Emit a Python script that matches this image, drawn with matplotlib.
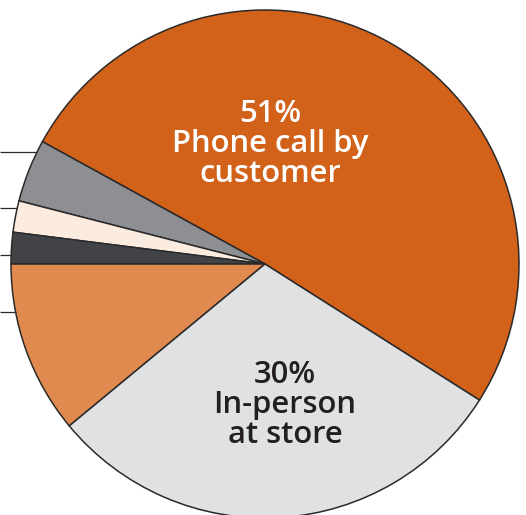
import matplotlib.pyplot as plt
import numpy as np

# appointment booking channel shares (%), counterclockwise from the phone slice
channels = ['Phone call by customer', 'Online booking', 'Text message',
            'Email', 'Phone call by store', 'In-person at store']
shares = [51, 4, 2, 2, 11, 30]
colors = ['#D2611A', '#8E8F93', '#FCEBDF', '#424346', '#E08A50', '#E0E1E3']

W, H = 526, 515
cx, cy, R = 265, H - 264, 254

fig = plt.figure(figsize=(W / 100, H / 100), dpi=100)
ax = fig.add_axes([0, 0, 1, 1])

ax.pie(shares, colors=colors, startangle=327.6, counterclock=True,
       radius=R, center=(cx, cy), frame=True,
       wedgeprops=dict(edgecolor='#2a2a2a', linewidth=1.1))

# leader lines running off to the left for the small slices
for ly in [152, 208, 255, 312]:
    y = H - ly
    x_edge = cx - np.sqrt(R ** 2 - (y - cy) ** 2)
    ax.plot([0, x_edge], [y, y], color='#2a2a2a', lw=0.9, solid_capstyle='butt')

font = dict(family=['Open Sans', 'DejaVu Sans'], fontweight='semibold', fontsize=22.3,
            ha='center', va='center', linespacing=1.0)
ax.text(270, H - 144, f'{shares[0]}%\nPhone call by\ncustomer', color='white', **font)
ax.text(285, H - 405, f'{shares[5]}%\nIn-person\nat store', color='#231F20', **font)

ax.set_xlim(0, W)
ax.set_ylim(0, H)
ax.axis('off')

fig.savefig('out.png', dpi=100)
